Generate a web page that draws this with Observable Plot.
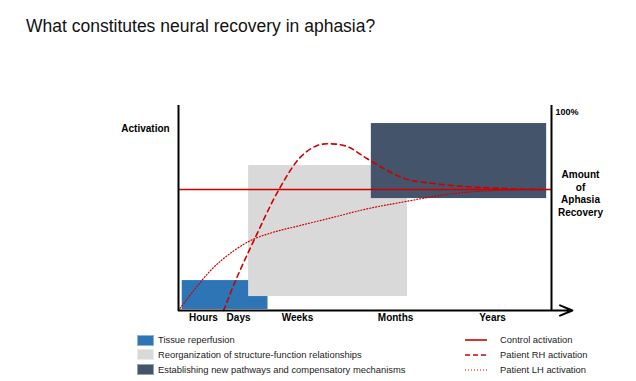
<!DOCTYPE html>
<html>
<head>
<meta charset="utf-8">
<script src="https://cdn.jsdelivr.net/npm/d3@7"></script>
<script src="https://cdn.jsdelivr.net/npm/@observablehq/plot@0.6"></script>
<style>
  body { margin: 0; background: #fff; font-family: "Liberation Sans", Arial, sans-serif; }
  #wrap { position: relative; width: 636px; height: 381px; overflow: hidden; }
  #chart { position: absolute; left: 0; top: 0; }
  #title { position: absolute; left: 26px; top: 17px; font-size: 17.5px; line-height: 18px; color: #111; white-space: nowrap; }
  .leg { position: absolute; font-size: 9.4px; color: #222; white-space: nowrap; line-height: 12px; }
  .sw { position: absolute; width: 17px; height: 11px; box-sizing: border-box; border: 1px solid rgba(255,255,255,0.45); }
</style>
</head>
<body>
<div id="wrap">
  <div id="chart"></div>
  <div id="title">What constitutes neural recovery in aphasia?</div>
</div>
<script>
// ---- data ----
const timeLabels = ["Hours", "Days", "Weeks", "Months", "Years"];
const timePos = [6.7, 16.1, 31.9, 58.2, 84.2];

const phaseNames = [
  "Tissue reperfusion",
  "Reorganization of structure-function relationships",
  "Establishing new pathways and compensatory mechanisms"
];
const phaseStart = [1.0, 18.8, 51.7];
const phaseEnd = [24.0, 61.4, 98.7];
const phaseLow = [0.5, 6.8, 54.6];
const phaseHigh = [14.6, 70.7, 91.2];

const lineNames = ["Control activation", "Patient RH activation", "Patient LH activation"];
const controlLevel = 59.0;

const rhX = [12.1, 15.3, 20.2, 26.9, 32.7, 37.2, 40.8, 45.2, 50.6, 56.0, 60.9, 67.6, 76.4, 85.4, 94.4, 98.5];
const rhY = [0.0, 14.6, 34.1, 58.9, 74.8, 80.5, 81.3, 80.0, 74.0, 68.3, 64.2, 62.1, 60.5, 59.7, 59.1, 59.0];

const lhX = [0.0, 4.1, 8.6, 13.1, 19.3, 25.5, 32.7, 41.6, 50.6, 59.5, 72.0, 81.0, 92.5, 98.7];
const lhY = [0.0, 9.8, 19.5, 26.8, 34.1, 38.2, 41.5, 45.5, 49.6, 52.7, 56.6, 58.2, 59.0, 59.0];

const phaseColors = ["#2E75B6", "#D9D9D9", "#44546A"];
const red = "#CC0000";

// ---- tables built from arrays ----
const phases = phaseNames.map((name, i) => ({name, x1: phaseStart[i], x2: phaseEnd[i], y1: phaseLow[i], y2: phaseHigh[i]}));
const rh = rhX.map((x, i) => ({x, y: rhY[i]}));
const lh = lhX.map((x, i) => ({x, y: lhY[i]}));

const chart = Plot.plot({
  width: 636,
  height: 381,
  marginLeft: 178,
  marginRight: 85,
  marginTop: 105,
  marginBottom: 71,
  style: {fontFamily: "'Liberation Sans', Arial, sans-serif", fontSize: "10px", background: "transparent", color: "#000"},
  x: {domain: [0, 100]},
  y: {domain: [0, 100], axis: null},
  color: {domain: phaseNames, range: phaseColors},
  marks: [
    Plot.rect(phases, {x1: "x1", x2: "x2", y1: "y1", y2: "y2", fill: "name"}),
    Plot.ruleY([controlLevel], {x1: 0, x2: 100, stroke: red, strokeWidth: 1.6}),
    Plot.line(rh, {x: "x", y: "y", stroke: red, strokeWidth: 1.6, strokeDasharray: "5,4", curve: "catmull-rom"}),
    Plot.line(lh, {x: "x", y: "y", stroke: red, strokeWidth: 1.2, strokeDasharray: "1,2", curve: "catmull-rom"}),
    Plot.ruleX([0, 100], {y1: 0, y2: 100, stroke: "#000", strokeWidth: 2}),
    Plot.arrow([0], {x1: 0, y1: 0, x2: 105.6, y2: 0, stroke: "#000", strokeWidth: 2, headLength: 10, headAngle: 45}),
    Plot.axisX(timePos, {tickSize: 0, tickPadding: 3, tickFormat: d => timeLabels[timePos.indexOf(d)], fontWeight: "bold", fontSize: 10, label: null}),
    Plot.text(["Activation"], {frameAnchor: "top-left", dx: -33, dy: 19, textAnchor: "middle", fontWeight: "bold", fontSize: 10}),
    Plot.text(["100%"], {frameAnchor: "top-right", dx: 4, dy: 3, textAnchor: "start", fontWeight: "bold", fontSize: 9}),
    Plot.text(["Amount\nof\nAphasia\nRecovery"], {x: 100, y: controlLevel, dx: 29, dy: 3.5, textAnchor: "middle", lineAnchor: "middle", lineHeight: 1.25, fontWeight: "bold", fontSize: 10})
  ]
});
document.getElementById("chart").appendChild(chart);

// ---- legend ----
const wrap = document.getElementById("wrap");
const rowY = [340, 354.5, 369.5];
phaseNames.forEach((name, i) => {
  const sw = document.createElement("div");
  sw.className = "sw";
  sw.style.left = "137px";
  sw.style.top = (rowY[i] - 5.5) + "px";
  sw.style.background = phaseColors[i];
  wrap.appendChild(sw);
  const t = document.createElement("div");
  t.className = "leg";
  t.style.left = "158px";
  t.style.top = (rowY[i] - 6) + "px";
  t.textContent = name;
  wrap.appendChild(t);
});
const dashes = ["none", "5,3", "1,2"];
lineNames.forEach((name, i) => {
  const s = d3.create("svg").attr("width", 22).attr("height", 6)
    .style("position", "absolute").style("left", "465px").style("top", (rowY[i] - 3) + "px");
  s.append("line").attr("x1", 0).attr("x2", 22).attr("y1", 3).attr("y2", 3)
    .attr("stroke", red).attr("stroke-width", i === 2 ? 1.2 : 1.6).attr("stroke-dasharray", dashes[i]);
  wrap.appendChild(s.node());
  const t = document.createElement("div");
  t.className = "leg";
  t.style.left = "500px";
  t.style.top = (rowY[i] - 6) + "px";
  t.textContent = name;
  wrap.appendChild(t);
});
</script>
</body>
</html>
